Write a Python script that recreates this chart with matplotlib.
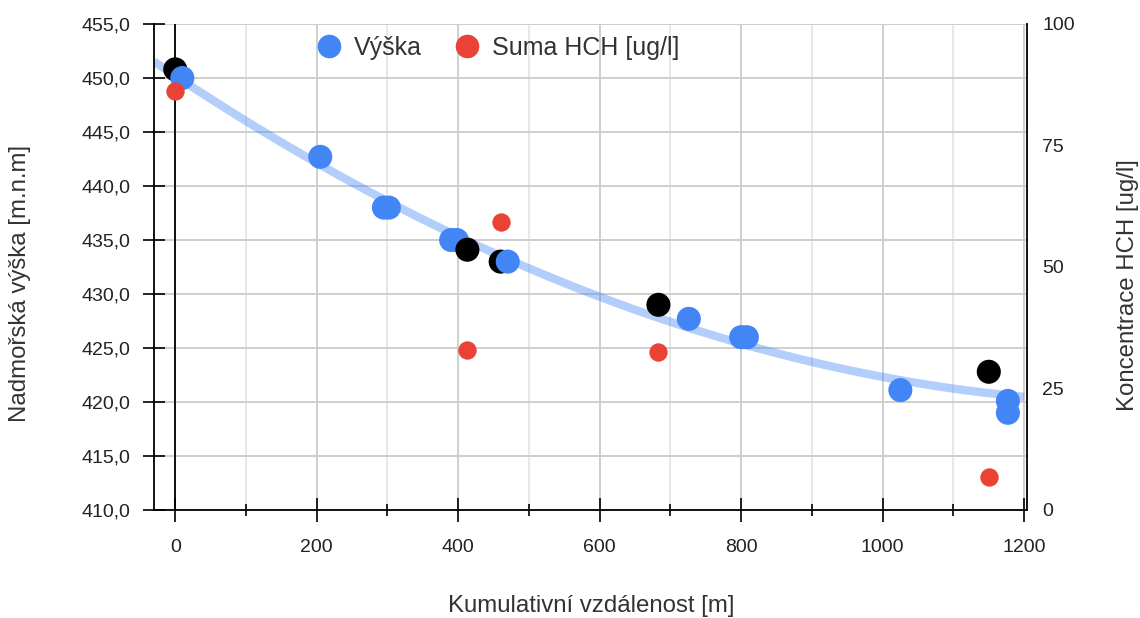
import numpy as np
import matplotlib
matplotlib.use("Agg")
import matplotlib.pyplot as plt
from matplotlib.lines import Line2D
from matplotlib.ticker import MultipleLocator, FuncFormatter

plt.rcParams['font.family'] = ['Liberation Sans', 'DejaVu Sans']

# Výška (blue) – cumulative distance [m] and elevation [m n.m.]
vyska_x = [10, 205, 295, 302, 390, 398, 470, 726, 800, 808, 1025, 1177, 1177]
vyska_y = [450.0, 442.7, 438.0, 438.0, 435.0, 435.0, 433.0, 427.7, 426.0, 426.0, 421.1, 420.1, 419.0]

# sampling points (black) – elevation
odber_x = [0, 413, 460, 683, 1150]
odber_y = [450.8, 434.1, 433.0, 429.0, 422.8]

# Suma HCH [ug/l] (red, right axis)
hch_x = [0, 413, 460, 683, 1150]
hch_y = [86.3, 33.0, 59.3, 32.5, 6.7]

x_ticks = [0, 200, 400, 600, 800, 1000, 1200]
left_ticks = [410, 415, 420, 425, 430, 435, 440, 445, 450, 455]
right_ticks = [0, 25, 50, 75, 100]

BLUE = '#4285f4'
RED = '#ea4335'
TXT = '#222222'
TXT2 = '#333333'

fig = plt.figure(figsize=(11.4, 6.18), dpi=100)
ax = fig.add_axes([154/1140, 1-510/618, (1027-154)/1140, (510-24)/618])
ax2 = ax.twinx()

ax.set_xlim(-30, 1204)
ax.set_ylim(410, 455)
ax2.set_ylim(0, 100)

# grid
ax.set_xticks(x_ticks)
ax.xaxis.set_minor_locator(MultipleLocator(100))
ax.set_yticks(left_ticks)
ax.grid(True, which='major', axis='both', color='#cccccc', lw=1.3, zorder=0)
ax.grid(True, which='minor', axis='x', color='#e6e6e6', lw=1.3, zorder=0)
ax.set_axisbelow(True)
ax.axvline(0, color='black', lw=1.3, zorder=1)

# points in x order (blue/black share one series)
all_x = np.array(vyska_x + odber_x, dtype=float)
all_y = np.array(vyska_y + odber_y, dtype=float)
cols = np.array([BLUE] * len(vyska_x) + ['black'] * len(odber_x))
order = np.argsort(all_x, kind='stable')

# trend line (polynomial fit of the elevation series)
coef = np.polyfit(all_x, all_y, 2)
tx = np.linspace(-30, 1200, 300)
ax.plot(tx, np.polyval(coef, tx), color=BLUE, alpha=0.4, lw=6, solid_capstyle='butt', zorder=2)

ax.scatter(all_x[order], all_y[order], s=300, c=list(cols[order]), linewidths=0, zorder=3)
ax2.scatter(hch_x, hch_y, s=175, c=RED, linewidths=0, zorder=4)

# axes styling
ax.spines['top'].set_visible(False)
ax2.spines['top'].set_visible(False)
ax2.spines['left'].set_visible(False)
ax2.spines['bottom'].set_visible(False)
ax.spines['right'].set_visible(False)
for sp in [ax.spines['left'], ax.spines['bottom'], ax2.spines['right']]:
    sp.set_color('black')
    sp.set_linewidth(1.3)

ax.yaxis.set_major_formatter(FuncFormatter(lambda v, p: f"{v:.1f}".replace('.', ',')))
ax.tick_params(axis='y', direction='inout', length=16.5, width=1.2, pad=9, labelsize=14, labelcolor=TXT)
ax.tick_params(axis='x', which='major', direction='inout', length=17, width=1.2, pad=12.5, labelsize=14, labelcolor=TXT)
ax.tick_params(axis='x', which='minor', direction='inout', length=8.6, width=1.2)
ax2.set_yticks(right_ticks)
ax2.tick_params(axis='y', length=0, pad=11, labelsize=14, labelcolor=TXT)

xl = ax.set_xlabel('Kumulativní vzdálenost [m]', fontsize=17.3, color=TXT2)
yl = ax.set_ylabel('Nadmořská výška [m.n.m]', fontsize=17.3, color=TXT2)
yr = ax2.set_ylabel('Koncentrace HCH [ug/l]', fontsize=17.3, color=TXT2)
for lab in (xl, yl, yr):
    lab.set_ha('center')
    lab.set_va('center')
ax.xaxis.set_label_coords((591 - 154) / 873, (510 - 606) / 486)
ax.yaxis.set_label_coords((20 - 154) / 873, 1 - (283 - 24) / 486)
ax2.yaxis.set_label_coords((1128 - 154) / 873, 1 - (285 - 24) / 486)

handles = [Line2D([], [], ls='', marker='o', ms=17, mew=0, color=BLUE),
           Line2D([], [], ls='', marker='o', ms=17, mew=0, color=RED)]
ax2.legend(handles, ['Výška', 'Suma HCH [ug/l]'], loc='center left',
           bbox_to_anchor=(0.186, 0.951), frameon=False, ncol=2,
           fontsize=18, handletextpad=0.5, columnspacing=1.3,
           borderpad=0, borderaxespad=0, labelcolor=TXT2, handlelength=1.0)

fig.savefig('out.png', dpi=100)
